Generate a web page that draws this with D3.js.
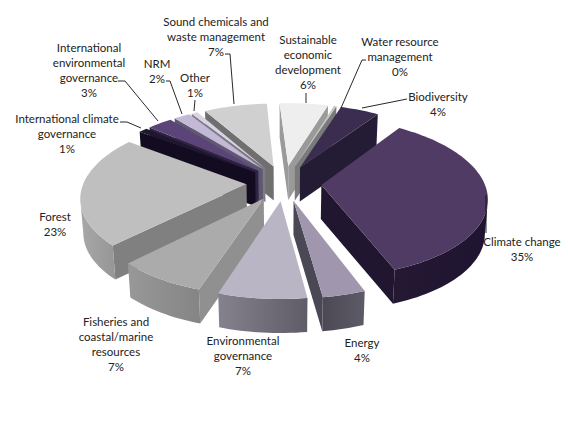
<!DOCTYPE html>
<html>
<head>
<meta charset="utf-8">
<script src="https://cdn.jsdelivr.net/npm/d3@7/dist/d3.min.js"></script>
<style>
  html, body { margin: 0; padding: 0; background: #fff; }
  text { font-family: Lato, "Open Sans", sans-serif; font-size: 11.5px; fill: #222; text-anchor: middle; dominant-baseline: central; }
</style>
</head>
<body>
<svg id="chart" width="568" height="421"></svg>
<script>
// Share of funding by theme, clockwise from the twelve-o'clock side of the pie
const categories = [
  ["Biodiversity"],
  ["Climate change"],
  ["Energy"],
  ["Environmental", "governance"],
  ["Fisheries and", "coastal/marine", "resources"],
  ["Forest"],
  ["International climate", "governance"],
  ["International", "environmental", "governance"],
  ["NRM"],
  ["Other"],
  ["Sound chemicals and", "waste management"],
  ["Sustainable", "economic", "development"],
  ["Water resource", "management"]
];
const shares = [4.49, 34.5, 3.5, 7.2, 7.4, 22.5, 1, 2.9, 1.9, 0.7, 7.3, 5.6, 0.3];

// Fill colours: top face, outer wall (left and right ends), radial wall
const topColors = ["#3a2d50", "#4f3b63", "#a096ad", "#b9b5c4", "#ababab", "#bfbfbf", "#1f1630", "#5b4478", "#c3b9d6", "#d9d5e0", "#d0d0d0", "#eeeeee", "#c4c4c4"];
const wallLeft = ["#241b35", "#241833", "#4c4955", "#85828e", "#989898", "#a8a8a8", "#160f24", "#3a2c50", "#7d778a", "#a09ca8", "#8a8a8a", "#a8a8a8", "#8f8f8f"];
const wallRight = ["#241b35", "#1f1530", "#5e5b68", "#5f5c68", "#858585", "#979797", "#160f24", "#3a2c50", "#7d778a", "#a09ca8", "#8a8a8a", "#a8a8a8", "#8f8f8f"];
const sideColors = ["#241b35", "#21162f", "#4b4856", "#6d6a76", "#909090", "#808080", "#130c20", "#2e2342", "#5e5870", "#7d7985", "#6f6f6f", "#9a9a9a", "#7a7a7a"];

// Label placement: centre x, first line y, and the leader polyline where there is one
const labelX = [438, 522, 362, 243, 116, 55, 67, 89, 157, 195, 216, 308, 400];
const labelY = [96, 241, 342, 340, 321, 216, 118, 47, 63, 77, 21, 39, 41];
const leaders = [
  [[407, 99], [362, 108]],
  [[486, 195], [486, 233]],
  null, null, null, null,
  [[120, 122], [127, 122], [141, 128]],
  [[118, 81], [125, 81], [158, 121]],
  [[166, 81], [170, 81], [182, 114]],
  [[195, 100], [194, 111]],
  [[225, 54], [230, 54], [234, 104]],
  [[306, 93], [306, 103]],
  [[366, 60], [362, 60], [341, 108]]
];

const width = 568, height = 421;
const centerX = 284, centerY = 183, radiusX = 163, radiusY = 77;
const startDeg = 18;        // rotation of the first slice
const explode = 0.23;       // slice offset, in pie radii
const persp = 0.15;         // strength of the perspective divide
const wallDepth = 34;       // extrusion height in pixels
const lineHeight = 15;

const sx = d3.scaleLinear().domain([-1, 1]).range([centerX - radiusX, centerX + radiusX]);
const sy = d3.scaleLinear().domain([-1, 1]).range([centerY - radiusY, centerY + radiusY]);

const project = (x, y) => {
  const p = 1 / (1 - persp * y);
  return [sx(x * p), sy(y * p)];
};
const drop = ([x, y]) => [centerX + (x - centerX) * 0.985, y + wallDepth];

const pie = d3.pie().sort(null)
  .startAngle(startDeg * Math.PI / 180)
  .endAngle((startDeg + 360) * Math.PI / 180);

const slices = pie(shares).map((d, i) => {
  const mid = (d.startAngle + d.endAngle) / 2;
  const ox = explode * Math.sin(mid), oy = -explode * Math.cos(mid);
  const steps = Math.max(2, Math.ceil((d.endAngle - d.startAngle) / 0.03));
  const angles = d3.range(steps + 1).map(k => d.startAngle + (d.endAngle - d.startAngle) * k / steps);
  const rim = angles.map(a => project(ox + Math.sin(a), oy - Math.cos(a)));
  const apex = project(ox, oy);
  return { i, mid, apex, rim, depth: oy - 0.6 * Math.cos(mid) };
});

const line = d3.line();
const svg = d3.select("#chart");
const defs = svg.append("defs");

const sliceGroups = svg.append("g").selectAll("g")
  .data(slices.slice().sort((a, b) => d3.ascending(a.depth, b.depth)))
  .join("g");

sliceGroups.each(function (s) {
  const g = d3.select(this);
  const outline = [s.apex, ...s.rim];

  // A wall shows only where the clockwise outline runs right to left, i.e. faces the viewer
  const faces = [];
  const addFace = (p, q) => {
    if (q[0] < p[0]) faces.push({ pts: [p, q, drop(q), drop(p)], color: sideColors[s.i] });
  };
  addFace(s.apex, s.rim[0]);
  addFace(s.rim[s.rim.length - 1], s.apex);

  // The visible part of the curved wall is one shape shaded across its width
  const front = s.rim.filter((p, k) =>
    (k > 0 && p[0] < s.rim[k - 1][0]) ||
    (k < s.rim.length - 1 && s.rim[k + 1][0] < p[0]));
  if (front.length > 1) {
    const [x0, x1] = d3.extent(front, p => p[0]);
    const id = "wall-" + s.i;
    const grad = defs.append("linearGradient").attr("id", id)
      .attr("gradientUnits", "userSpaceOnUse")
      .attr("x1", x0).attr("x2", x1).attr("y1", 0).attr("y2", 0);
    grad.append("stop").attr("offset", 0).attr("stop-color", wallLeft[s.i]);
    grad.append("stop").attr("offset", 1).attr("stop-color", wallRight[s.i]);
    faces.push({ pts: [...front, ...front.slice().reverse().map(drop)], color: `url(#${id})` });
  }

  g.selectAll("path.wall").data(faces).join("path")
    .attr("class", "wall")
    .attr("d", f => line(f.pts) + "Z")
    .attr("fill", f => f.color);
  g.append("path")
    .attr("d", line(outline) + "Z")
    .attr("fill", topColors[s.i]);
});

// Leader lines
svg.append("g").selectAll("path")
  .data(leaders.filter(Boolean))
  .join("path")
  .attr("d", line)
  .attr("fill", "none")
  .attr("stroke", "#111")
  .attr("stroke-width", 0.9);

// Category name followed by the rounded share
const labels = svg.append("g").selectAll("text")
  .data(categories.map((name, i) => ({ lines: [...name, Math.round(shares[i]) + "%"], i })))
  .join("text")
  .attr("transform", d => `translate(${labelX[d.i]},${labelY[d.i]})`);
labels.selectAll("tspan")
  .data(d => d.lines)
  .join("tspan")
  .attr("x", 0)
  .attr("y", (t, k) => k * lineHeight)
  .text(t => t);
</script>
</body>
</html>
